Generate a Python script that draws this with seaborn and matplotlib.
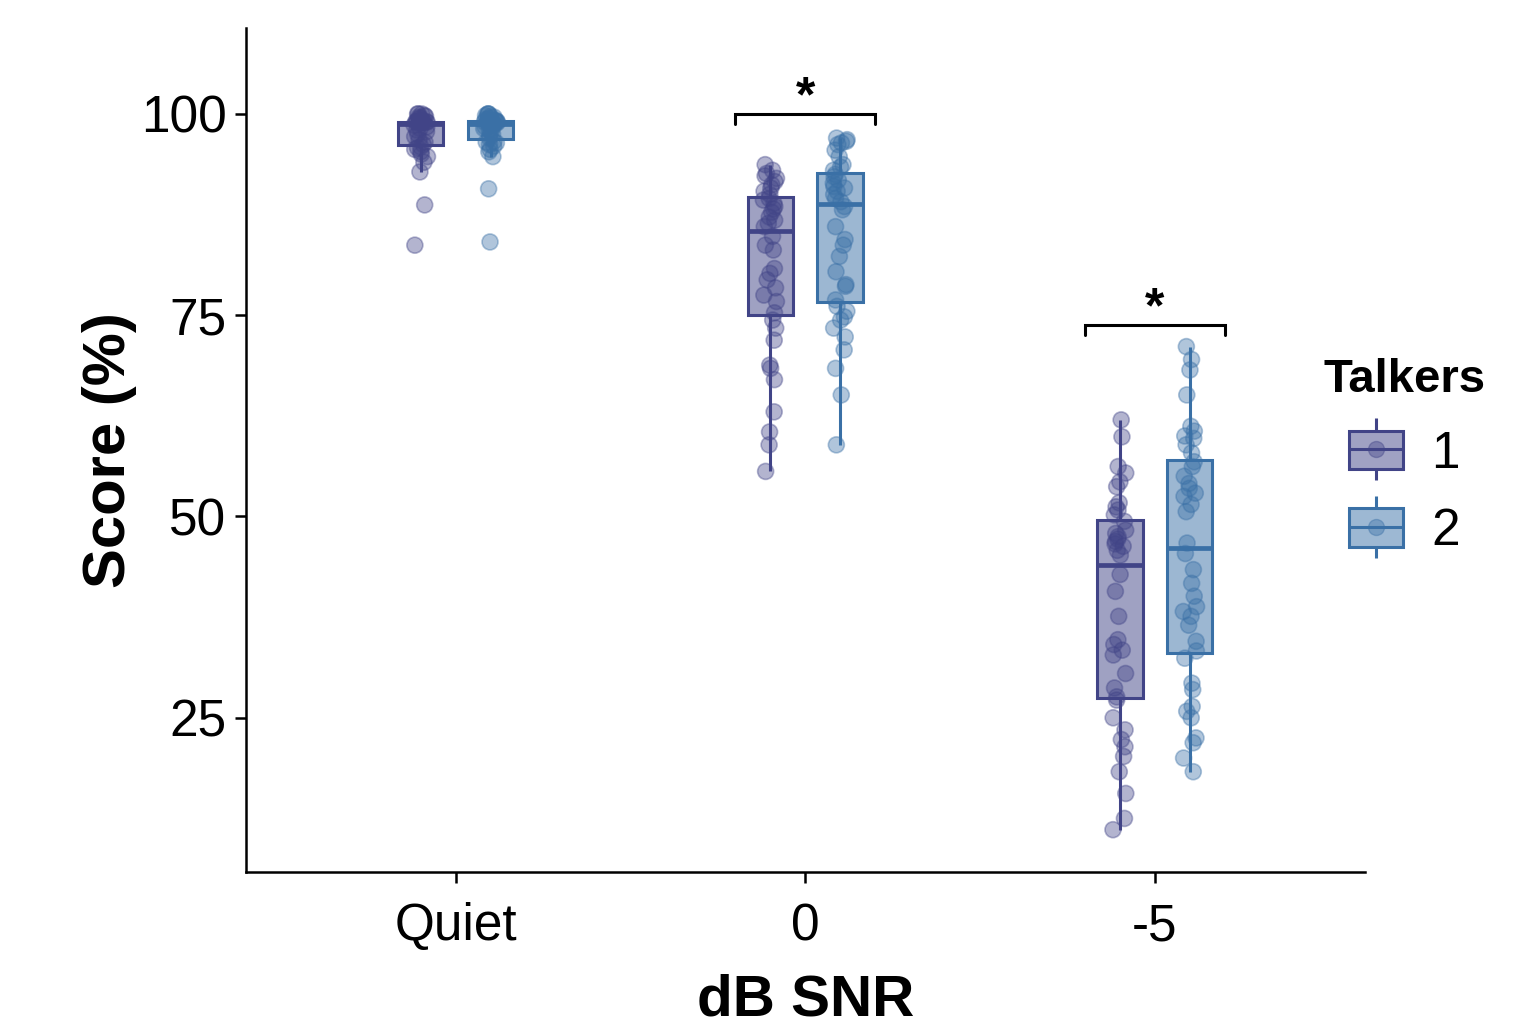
import numpy as np
import pandas as pd
import matplotlib
matplotlib.use("Agg")
import matplotlib.pyplot as plt
import seaborn as sns
from matplotlib.colors import to_rgb, to_rgba
from matplotlib.patches import Patch
from matplotlib.lines import Line2D
from matplotlib.legend_handler import HandlerTuple

np.random.seed(7)

# categories
snr_levels = ["Quiet", "0", "-5"]
talkers = ["1", "2"]
colors = ["#414487", "#3A70A6"]

# scores (%), one value per listener
quiet_t1 = [83.7, 88.7, 92.8, 94.0, 94.7, 95.0, 95.3, 95.6, 95.8, 95.9,
            96.2, 96.5, 96.8, 97.2, 97.5, 97.8, 98.0, 98.2, 98.4, 98.6,
            99.0, 99.0, 99.0, 99.0, 99.0, 99.0, 99.0, 99.0, 99.0, 99.0,
            99.1, 99.2, 99.4, 99.5, 99.6, 99.7, 99.8, 100.0, 100.0, 100.0]
quiet_t2 = [84.1, 90.7, 94.7, 95.3, 95.6, 96.0, 96.2, 96.4, 96.5, 96.6,
            97.0, 97.3, 97.5, 97.8, 98.0, 98.2, 98.4, 98.5, 98.6, 98.7,
            98.9, 98.9, 99.0, 99.0, 99.0, 99.0, 99.0, 99.1, 99.1, 99.1,
            99.2, 99.3, 99.4, 99.5, 99.6, 99.7, 99.8, 100.0, 100.0, 100.0]
snr0_t1 = [55.6, 58.9, 60.5, 63.0, 67.0, 68.4, 68.8, 71.9, 73.4, 74.4,
           75.3, 76.7, 77.5, 78.4, 79.4, 80.2, 80.8, 83.1, 83.7, 84.8,
           86.0, 86.4, 86.8, 87.2, 87.8, 88.2, 88.5, 88.9, 89.3, 89.5,
           90.0, 90.4, 90.8, 91.2, 91.6, 92.0, 92.3, 92.6, 93.0, 93.7]
snr0_t2 = [58.9, 65.1, 68.4, 70.7, 72.3, 73.4, 74.4, 74.8, 75.5, 76.1,
           76.9, 78.6, 78.8, 80.4, 82.3, 83.7, 84.4, 86.0, 88.1, 88.5,
           89.1, 89.5, 90.0, 90.4, 90.8, 91.0, 91.4, 91.8, 92.2, 92.5,
           93.0, 93.4, 93.7, 94.7, 95.5, 96.2, 96.4, 96.6, 96.8, 97.0]
snr5_t1 = [11.1, 12.5, 15.6, 18.3, 20.2, 21.4, 22.3, 23.5, 25.0, 27.2,
           27.6, 28.7, 30.5, 32.8, 33.4, 34.1, 34.7, 37.6, 40.7, 42.8,
           45.2, 45.8, 46.3, 46.6, 46.9, 47.2, 47.5, 47.9, 48.3, 49.4,
           50.2, 50.8, 51.2, 51.7, 53.7, 54.3, 55.4, 56.2, 59.9, 62.0]
snr5_t2 = [18.3, 20.0, 21.9, 22.5, 25.0, 25.8, 26.4, 28.5, 29.3, 32.4,
           33.3, 34.5, 36.5, 37.6, 38.2, 38.8, 40.1, 41.7, 43.4, 45.4,
           46.7, 50.6, 51.5, 52.5, 52.9, 53.5, 54.1, 55.0, 56.2, 56.8,
           57.9, 58.9, 59.7, 60.0, 60.6, 61.2, 65.1, 68.2, 69.5, 71.1]

# significance brackets (condition, height)
sig_conditions = ["0", "-5"]
sig_heights = [100.0, 73.8]

groups = {
    ("Quiet", "1"): quiet_t1, ("Quiet", "2"): quiet_t2,
    ("0", "1"): snr0_t1, ("0", "2"): snr0_t2,
    ("-5", "1"): snr5_t1, ("-5", "2"): snr5_t2,
}
rows = []
for (snr, tk), vals in groups.items():
    for v in vals:
        rows.append({"SNR": snr, "Talkers": tk, "Score": v})
df = pd.DataFrame(rows)

sns.set_theme(style="ticks")
plt.rcParams["font.family"] = ["Liberation Sans", "DejaVu Sans"]
plt.rcParams["text.color"] = "black"
plt.rcParams["axes.labelcolor"] = "black"
plt.rcParams["xtick.color"] = "black"
plt.rcParams["ytick.color"] = "black"

fig = plt.figure(figsize=(15.28, 10.29), dpi=100)
ax = fig.add_axes([0.161, 0.153, 0.732, 0.820])

sns.boxplot(data=df, x="SNR", y="Score", hue="Talkers", order=snr_levels,
            hue_order=talkers, palette=colors, width=0.4, gap=0.35,
            showcaps=False, showfliers=False, linewidth=2.2,
            medianprops={"linewidth": 3.4}, legend=False, ax=ax)

# box colours: translucent face, solid outline in the talker colour
for cont, col in zip(ax.containers, colors):
    for b in cont.boxes:
        b.set_facecolor(to_rgba(col, 0.5))
        b.set_edgecolor(col)
    for ln in list(cont.whiskers) + list(cont.medians):
        ln.set_color(col)

n_before = len(ax.collections)
sns.stripplot(data=df, x="SNR", y="Score", hue="Talkers", order=snr_levels,
              hue_order=talkers, palette=colors, dodge=True, jitter=0.08,
              size=11.5, alpha=0.4, linewidth=1.2, legend=False, ax=ax)

# seaborn dodges strips by a fixed 0.8 width; pull them onto the narrower boxes
for coll in ax.collections[n_before:]:
    off = coll.get_offsets().copy()
    if len(off) == 0:
        continue
    c = np.round(off[:, 0])
    off[:, 0] = c + (off[:, 0] - c) / 2
    coll.set_offsets(off)
    coll.set_edgecolor(coll.get_facecolor())

# significance brackets
for cond, h in zip(sig_conditions, sig_heights):
    i = snr_levels.index(cond)
    ax.plot([i - 0.2, i - 0.2, i + 0.2, i + 0.2], [h - 1.3, h, h, h - 1.3],
            color="black", lw=2.2, solid_joinstyle="miter")
    ax.text(i, h - 0.9, "*", ha="center", va="bottom", fontsize=36,
            fontweight="bold")

ax.set_xlim(-0.6, 2.6)
ax.set_ylim(5.9, 110.7)
ax.set_yticks([25, 50, 75, 100])
sns.despine(ax=ax)
for s in ["left", "bottom"]:
    ax.spines[s].set_linewidth(1.8)
    ax.spines[s].set_color("black")
ax.tick_params(labelsize=37, length=8, width=1.8, color="black")
ax.tick_params(axis="x", pad=14)
ax.tick_params(axis="y", pad=6)
ax.set_xlabel("dB SNR", fontsize=42, fontweight="bold", labelpad=16)
ax.set_ylabel("Score (%)", fontsize=43, fontweight="bold", labelpad=3)

# legend: box with whisker stubs and a point, like the marks
handles = []
for col in colors:
    light = tuple(0.5 * np.array(to_rgb(col)) + 0.5)
    stub = Line2D([], [], color=col, marker="|", markersize=44,
                  markeredgewidth=2.2, linestyle="none")
    box = Patch(facecolor=light, edgecolor=col, linewidth=2.2)
    med = Line2D([], [], color=col, linewidth=2.2)
    dot = Line2D([], [], color=col, marker="o", markersize=11.5,
                 alpha=0.4, linestyle="none")
    handles.append((stub, box, med, dot))
leg = ax.legend(handles, talkers, title="Talkers",
                handler_map={tuple: HandlerTuple(ndivide=1)},
                frameon=False, loc="center", bbox_to_anchor=(0.919, 0.556),
                bbox_transform=fig.transFigure, fontsize=37,
                title_fontproperties={"weight": "bold", "size": 34},
                handlelength=1.05, handleheight=0.78, labelspacing=0.55,
                handletextpad=0.55)

fig.savefig("out.png", dpi=100)
